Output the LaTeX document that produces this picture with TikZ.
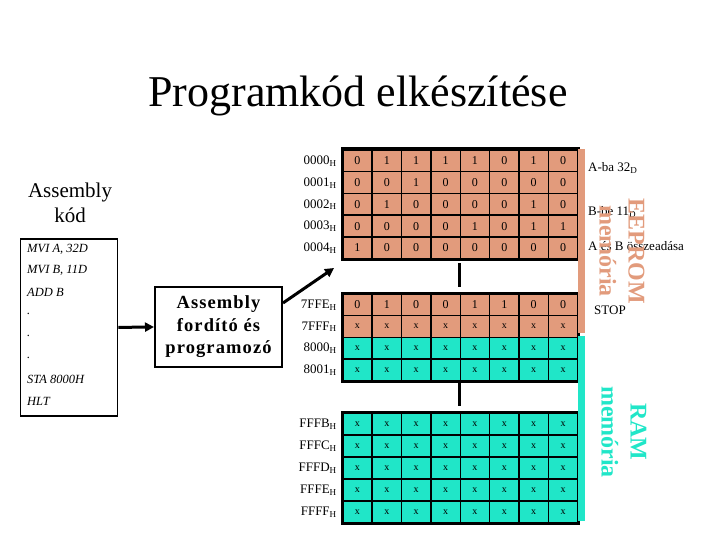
\documentclass[tikz,border=0pt]{standalone}
\usepackage{fontspec}
\setmainfont{Liberation Serif}
\usetikzlibrary{arrows.meta}
\definecolor{eep}{RGB}{226,155,124}
\definecolor{ram}{RGB}{32,230,200}
\begin{document}
\begin{tikzpicture}[x=1pt,y=-1pt,
  cell/.style={draw=black, line width=1.6pt, minimum width=29.375pt, inner sep=0pt, anchor=north west, font=\fontsize{12}{12}\selectfont},
  xcell/.style={cell, font=\fontsize{10}{10}\selectfont},
  addr/.style={anchor=east, inner sep=0pt, font=\fontsize{13}{13}\selectfont},
  note/.style={anchor=west, inner sep=0pt, font=\fontsize{13}{13}\selectfont},
  codeline/.style={anchor=west, inner sep=0pt, font=\fontsize{12.5}{12.5}\selectfont\itshape},
  arr/.style={line width=3pt, -{Triangle[length=9pt,width=9pt]}},
  tick/.style={line width=2.5pt},
  memlabel/.style={rotate=-90, align=center, font=\fontsize{24}{29}\selectfont\bfseries}
]
\useasboundingbox (0,0) rectangle (720,540);

% title
\node[font=\fontsize{44}{44}\selectfont] (title) at (358,96) {Programkód elkészítése};

% assembly code heading
\node[align=center, font=\fontsize{21}{25}\selectfont] (head) at (70,203) {Assembly\\kód};

% code box
\node[draw, line width=1.8pt, minimum width=97pt, minimum height=177pt, anchor=north west] (code) at (19.5,238) {};
\node[codeline] (c1) at (27,249) {MVI A, 32D};
\node[codeline] (c2) at (27,270.8) {MVI B, 11D};
\node[codeline] (c3) at (27,292.6) {ADD B};
\node[codeline] (c4) at (27,314.4) {.};
\node[codeline] (c5) at (27,336.2) {.};
\node[codeline] (c6) at (27,358) {.};
\node[codeline] (c7) at (27,379.8) {STA 8000H};
\node[codeline] (c8) at (27,401.6) {HLT};

% assembler box
\node[draw, line width=2pt, minimum width=127pt, minimum height=80pt, align=center,
      font=\fontsize{18.5}{22.5}\selectfont\bfseries\addfontfeatures{LetterSpace=6}] (asm) at (218.5,327) {Assembly\\fordító és\\programozó};

\draw[arr] (code.east) -- (asm.west);
\coordinate (tblin) at (334,268);
\draw[arr] ([yshift=24pt]asm.east) -- (tblin);

% ---------- table 1 (EEPROM, 0000-0004)
\foreach \row [count=\r from 0] in {{0,1,1,1,1,0,1,0},{0,0,1,0,0,0,0,0},{0,1,0,0,0,0,1,0},{0,0,0,0,1,0,1,1},{1,0,0,0,0,0,0,0}}{
  \foreach \v [count=\c from 0] in \row {
    \node[cell, fill=eep, minimum height=21.8pt] (a-\r-\c) at ({342+\c*29.375},{149+\r*21.8}) {\v};
  }
}
\draw[line width=3pt] (a-0-0.north west) rectangle (a-4-7.south east);
\foreach \lab [count=\r from 0] in {0000,0001,0002,0003,0004}{
  \node[addr] (la-\r) at (337,{161+\r*21.8}) {\lab\textsubscript{H}};
}

% ---------- table 2 (7FFE-8001)
\foreach \c in {0,...,7}{
  \pgfmathsetmacro{\v}{{"0","1","0","0","1","1","0","0"}[\c]}
  \node[cell, fill=eep, minimum height=21.75pt] (b-0-\c) at ({342+\c*29.375},293) {\v};
  \node[xcell, fill=eep, minimum height=21.75pt] (b-1-\c) at ({342+\c*29.375},314.75) {x};
  \node[xcell, fill=ram, minimum height=21.75pt] (b-2-\c) at ({342+\c*29.375},336.5) {x};
  \node[xcell, fill=ram, minimum height=21.75pt] (b-3-\c) at ({342+\c*29.375},358.25) {x};
}
\draw[line width=3pt] (b-0-0.north west) rectangle (b-3-7.south east);
\foreach \lab [count=\r from 0] in {7FFE,7FFF,8000,8001}{
  \node[addr] (lb-\r) at (337,{305+\r*21.75}) {\lab\textsubscript{H}};
}

% ---------- table 3 (FFFB-FFFF)
\foreach \r in {0,...,4}{
  \foreach \c in {0,...,7}{
    \node[xcell, fill=ram, minimum height=22pt] (d-\r-\c) at ({342+\c*29.375},{412+\r*22}) {x};
  }
}
\draw[line width=3pt] (d-0-0.north west) rectangle (d-4-7.south east);
\foreach \lab [count=\r from 0] in {FFFB,FFFC,FFFD,FFFE,FFFF}{
  \node[addr] (ld-\r) at (337,{424+\r*22}) {\lab\textsubscript{H}};
}

% gap ticks
\coordinate (t1a) at (459.5,263);
\coordinate (t1b) at (459.5,287);
\coordinate (t2a) at (459.5,383);
\coordinate (t2b) at (459.5,406);
\draw[tick] (t1a) -- (t1b);
\draw[tick] (t2a) -- (t2b);

% memory bars
\fill[eep] (578,149) rectangle (585,333);
\fill[ram] (578,336) rectangle (585,521);

% notes
\node[note] (n1) at (588,168) {A-ba 32\textsubscript{D}};
\node[note] (n2) at (588,212) {B-be 11\textsubscript{D}};
\node[note] (n3) at (588,246) {A és B összeadása};
\node[note] (n4) at (594,310) {STOP};

% rotated memory labels
\node[memlabel, text=eep] (eeprom) at (622,251) {EEPROM\\memória};
\node[memlabel, text=ram] (ramlab) at (624,432) {RAM\\memória};
\end{tikzpicture}
\end{document}
